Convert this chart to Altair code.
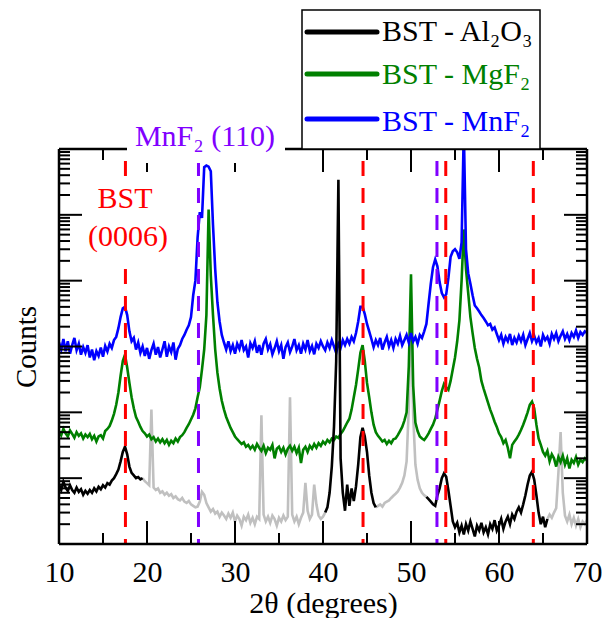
import altair as alt
import pandas as pd

# ---------------- data ----------------
START, STEP = 10.0, 0.25   # 2-theta scan grid (degrees)

AL2O3 = [
    80, 66, 88, 72, 64, 78, 66, 60,
    72, 62, 68, 56, 64, 58, 66, 60,
    70, 63, 74, 68, 78, 72, 84, 80,
    92, 100, 115, 135, 180, 250, 300, 230,
    150, 120, 110, 100, 104, 96, 100, 90,
    84, 78, 1100, 72, 66, 70, 60, 63,
    56, 60, 54, 57, 50, 53, 48, 46,
    50, 44, 42, 45, 40, 38, 36, 37,
    44, 62, 56, 42, 36, 31, 34, 29,
    31, 26, 30, 27, 24, 29, 25, 30,
    22, 27, 24, 19, 26, 23, 28, 21,
    25, 20, 26, 24, 900, 28, 22, 26,
    21, 27, 24, 19, 25, 22, 27, 23,
    26, 1700, 28, 22, 26, 20, 25, 30,
    85, 32, 24, 28, 80, 40, 27, 24,
    26, 30, 36, 60, 150, 600, 6000, 3400000,
    200, 60, 32, 80, 38, 70, 45, 75,
    160, 420, 580, 430, 250, 110, 60, 42,
    36, 38, 40, 37, 42, 44, 46, 50,
    54, 58, 63, 72, 85, 110, 180, 1200,
    50000, 900, 160, 95, 70, 60, 55, 52,
    48, 44, 40, 38, 55, 70, 100, 118,
    105, 65, 38, 22, 18, 21, 15, 19,
    14, 20, 16, 22, 17, 13, 19, 16,
    21, 15, 18, 14, 20, 17, 23, 16,
    19, 24, 17, 22, 26, 20, 28, 24,
    31, 36, 30, 40, 55, 80, 110, 125,
    95, 55, 30, 20, 26, 18, 24, 28,
    25, 30, 35, 120, 500, 60, 27, 22,
    28, 20, 25, 19, 24, 18, 22, 20,
    23,
]

MGF2 = [
    520, 450, 560, 480, 430, 530, 470, 410,
    500, 440, 480, 400, 460, 420, 470, 390,
    440, 360, 430, 450, 400, 520, 560, 620,
    750, 950, 1300, 2000, 3600, 6000, 7500, 4800,
    2800, 1700, 1150, 850, 720, 600, 520, 480,
    430, 460, 390, 420, 360, 400, 350, 390,
    340, 380, 320, 370, 340, 400, 360, 420,
    450, 500, 580, 660, 780, 920, 1150, 1700,
    2400, 4500, 9000, 30000, 1200000, 120000, 30000, 9000,
    4000, 2300, 1500, 1100, 850, 700, 580, 500,
    430, 390, 360, 330, 350, 300, 320, 280,
    310, 270, 330, 290, 260, 310, 240, 290,
    270, 320, 200, 280, 300, 250, 290, 230,
    280, 310, 260, 300, 240, 290, 170, 270,
    300, 250, 310, 280, 330, 290, 340, 310,
    360, 330, 380, 350, 400, 380, 430, 410,
    470, 520, 600, 700, 800, 1100, 1700, 2600,
    4500, 8000, 10500, 6000, 2800, 1700, 1000, 650,
    500, 440, 400, 360, 380, 330, 370, 340,
    390, 400, 450, 520, 600, 750, 1000, 5000,
    125000, 2500, 700, 520, 430, 400, 380, 420,
    480, 560, 650, 800, 1100, 1500, 2100, 2700,
    2400, 2200, 3000, 4500, 6800, 12000, 25000, 100000,
    600000, 150000, 65000, 28000, 16000, 9500, 6500, 4800,
    3000, 2300, 1800, 1400, 1100, 900, 720, 600,
    480, 420, 340, 380, 290, 200, 320, 360,
    400, 460, 540, 650, 800, 1000, 1300, 1450,
    1150, 650, 400, 320, 250, 220, 260, 180,
    230, 200, 150, 210, 175, 220, 160, 200,
    140, 190, 170, 210, 160, 190, 175, 200,
    185,
]

MNF2 = [
    11500, 9000, 13000, 8500, 12000, 7800, 10500, 13500,
    8800, 11000, 7500, 9800, 8000, 10500, 6800, 9000,
    6200, 8500, 7200, 9600, 7000, 10200, 8400, 11000,
    9500, 12500, 14000, 19000, 28000, 38000, 40000, 30000,
    17000, 12000, 13500, 9000, 11500, 8000, 10000, 7200,
    9500, 6500, 8800, 11000, 7500, 9800, 6800, 9000,
    12000, 7000, 10000, 8200, 11500, 6300, 9200, 10500,
    13000, 15000, 18000, 21000, 28000, 60000, 100000, 450000,
    1100000, 900000, 5300000, 5600000, 5400000, 4600000, 700000, 150000,
    47000, 24000, 15000, 11500, 9000, 12000, 8500, 10500,
    7800, 11000, 9200, 12500, 8800, 10000, 6800, 11200,
    9500, 12000, 8000, 10500, 7500, 11000, 13000, 9000,
    10800, 7600, 9400, 12000, 8500, 10500, 6500, 9800,
    11500, 8200, 10000, 13000, 8800, 10500, 7800, 11000,
    9000, 12500, 8500, 10200, 7600, 11000, 9500, 12000,
    10000, 8800, 11500, 9500, 12500, 10000, 8000, 11000,
    9500, 12500, 10500, 13000, 11000, 14000, 12000, 16000,
    24000, 40000, 40000, 31000, 22000, 17000, 13000, 9800,
    12500, 10500, 13500, 9000, 11500, 14000, 10000, 12500,
    9500, 13000, 11000, 14500, 10500, 12500, 15000, 11500,
    16000, 12000, 14000, 11000, 15000, 13500, 17000, 22000,
    45000, 90000, 160000, 210000, 165000, 95000, 65000, 56000,
    62000, 110000, 230000, 280000, 300000, 270000, 215000, 380000,
    20000000, 300000, 130000, 90000, 60000, 42000, 38000, 34000,
    30000, 27000, 24000, 21000, 22000, 18000, 19500, 15500,
    12500, 15000, 11000, 14000, 12000, 15500, 10500, 13500,
    11500, 14500, 12000, 15000, 10500, 13000, 16000, 12000,
    14500, 11500, 13500, 10000, 15000, 12500, 14000, 11000,
    15500, 13000, 16000, 12000, 14500, 17000, 13000, 15500,
    12500, 16000, 14000, 17500, 13500, 16500, 15000, 17000,
    16000,
]

# parts of the Al2O3 scan drawn black (film) and grey (substrate)
BLACK_SPANS = [(10.0, 19.5), (40.25, 46.0), (51.75, 65.5)]
GREY_SPANS = [(19.5, 40.25), (46.0, 51.75), (65.5, 70.0)]

BST_PEAKS = [17.55, 44.55, 53.95, 63.9]
MNF2_PEAKS = [25.85, 52.95]

X_LABELS = [10, 20, 30, 40, 50, 60, 70]
X_MAJOR = [20, 30, 40, 50, 60]
X_MINOR = [15, 25, 35, 45, 55, 65]
Y_MAJOR = [100, 1000, 10000, 100000, 1000000]
Y_MINOR = [m * d for d in [10, 100, 1000, 10000, 100000, 1000000] for m in range(2, 10)]

LEGEND_NAMES = ["BST - Al\u2082O\u2083", "BST - MgF\u2082", "BST - MnF\u2082"]
LEGEND_COLORS = ["#000000", "#008000", "#0000ff"]

# ---------------- build ----------------
W, H = 528, 395
FONT = "Liberation Serif"
two_theta = [round(START + STEP * i, 2) for i in range(len(AL2O3))]

XS = alt.Scale(domain=[10, 70], nice=False, zero=False)
YS = alt.Scale(type="log", domain=[10, 1e7], nice=False)

XAXIS = alt.Axis(values=X_LABELS, format="d", labelFlush=False, ticks=False, tickSize=0,
                 domain=False, grid=False, labelFont=FONT, labelFontSize=30,
                 labelColor="black", labelPadding=13, title="2\u03b8 (degrees)",
                 titleFont=FONT, titleFontSize=30, titleFontWeight="normal",
                 titleColor="black", titlePadding=1)
YAXIS = alt.Axis(labels=False, ticks=False, tickSize=0, domain=False, grid=False,
                 title="Counts", titleFont=FONT, titleFontSize=29,
                 titleFontWeight="normal", titleColor="black", titlePadding=18)


def X(field):
    return alt.X(field, scale=XS, axis=XAXIS)


def Y(field):
    return alt.Y(field, scale=YS, axis=YAXIS)


def seg_frame(values, spans):
    rows = []
    for k, (lo, hi) in enumerate(spans):
        for t, v in zip(two_theta, values):
            if lo - 1e-9 <= t <= hi + 1e-9:
                rows.append({"two_theta": t, "counts": v, "seg": k})
    return pd.DataFrame(rows)


def trace(df, color):
    return alt.Chart(df).mark_line(color=color, strokeWidth=2.6, clip=True).encode(
        x=X("two_theta:Q"), y=Y("counts:Q"), detail="seg:N")


grey = trace(seg_frame(AL2O3, GREY_SPANS), "#c0c0c0")
green = trace(seg_frame(MGF2, [(10.0, 70.0)]), "#008000")
blue = trace(seg_frame(MNF2, [(10.0, 70.0)]), "#0000ff")
black = trace(seg_frame(AL2O3, BLACK_SPANS), "#000000")

ONE = pd.DataFrame({"k": [0]})


def vlines(vals, color):
    return alt.Chart(pd.DataFrame({"two_theta": vals})).mark_rule(
        color=color, strokeWidth=3, strokeDash=[15, 12]).encode(
        x=X("two_theta:Q"), y=alt.value(12), y2=alt.value(H))


def xticks(vals, y0, y1):
    return alt.Chart(pd.DataFrame({"two_theta": vals})).mark_rule(color="black", strokeWidth=2).encode(
        x=X("two_theta:Q"), y=alt.value(y0), y2=alt.value(y1))


def yticks(vals, x0, x1):
    return alt.Chart(pd.DataFrame({"counts": vals})).mark_rule(color="black", strokeWidth=2).encode(
        y=Y("counts:Q"), x=alt.value(x0), x2=alt.value(x1))


MAJ, MIN = 23, 11
ticks = [
    xticks(X_MAJOR, H, H - MAJ), xticks(X_MINOR, H, H - MIN),
    xticks(X_MAJOR, 0, MAJ), xticks(X_MINOR, 0, MIN),
    yticks(Y_MAJOR, 0, MAJ), yticks(Y_MINOR, 0, MIN),
    yticks(Y_MAJOR, W, W - MAJ), yticks(Y_MINOR, W, W - MIN),
]


def hrule(y, x0, x1, w=2.5):
    return alt.Chart(ONE).mark_rule(color="black", strokeWidth=w).encode(
        x=alt.value(x0), x2=alt.value(x1), y=alt.value(y))


def vrule(x, y0, y1, w=2.5):
    return alt.Chart(ONE).mark_rule(color="black", strokeWidth=w).encode(
        x=alt.value(x), y=alt.value(y0), y2=alt.value(y1))


frame = [hrule(0, 0, W), hrule(H, 0, W), vrule(0, 0, H), vrule(W, 0, H)]


def white_box(x0, x1, y0, y1):
    return alt.Chart(ONE).mark_rect(color="white").encode(
        x=alt.value(x0), x2=alt.value(x1), y=alt.value(y0), y2=alt.value(y1))


def label(txt, x, y, color, size=30, align="center"):
    return alt.Chart(ONE).mark_text(text=txt, font=FONT, fontSize=size, color=color,
                                    align=align, baseline="alphabetic").encode(
        x=alt.value(x), y=alt.value(y))


annotations = [
    white_box(68, 226, -36, 14),
    white_box(26, 112, 28, 110),
    label("MnF\u2082 (110)", 146, -3, "#8000ff"),
    label("BST", 66, 59, "#ff0000"),
    label("(0006)", 69, 97, "#ff0000"),
]

legend = [alt.Chart(ONE).mark_rect(fill="white", stroke="black", strokeWidth=1.5).encode(
    x=alt.value(243), x2=alt.value(481), y=alt.value(-139), y2=alt.value(0))]
for name, col, ly, by in zip(LEGEND_NAMES, LEGEND_COLORS, [-117, -75, -30], [-108, -65, -18]):
    legend.append(alt.Chart(ONE).mark_rule(color=col, strokeWidth=5, strokeCap="round").encode(
        x=alt.value(248), x2=alt.value(318), y=alt.value(ly)))
    legend.append(label(name, 323, by, col, size=30, align="left"))

chart = alt.layer(
    grey, green, blue, black,
    vlines(BST_PEAKS, "#ff0000"), vlines(MNF2_PEAKS, "#8000ff"),
    *ticks, *frame, *annotations, *legend,
).properties(
    width=W, height=H, background="white",
    padding={"left": 4, "top": 1, "right": 5, "bottom": 0},
).configure_view(stroke="transparent")

chart.save("out.html", embed_options={"renderer": "svg", "actions": False})
